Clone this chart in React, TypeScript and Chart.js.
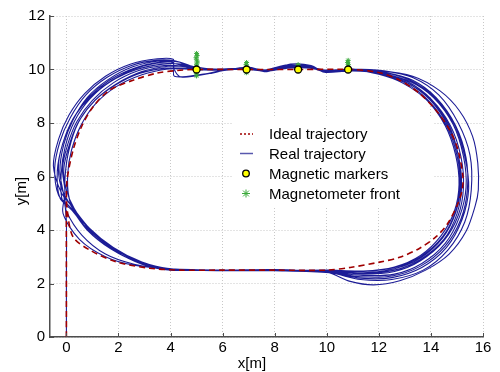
import React, { useEffect, useRef } from "react";
import { Chart, registerables } from "chart.js";

Chart.register(...registerables);

type Pt = [number, number];

const X_MIN = -0.63;
const X_MAX = 16;
const Y_MIN = 0;
const Y_MAX = 12;
const X_TICKS = [0, 2, 4, 6, 8, 10, 12, 14, 16];
const Y_TICKS = [0, 2, 4, 6, 8, 10, 12];
const X_TITLE = "x[m]";
const Y_TITLE = "y[m]";
const LEGEND_LABELS = ["Ideal trajectory", "Real trajectory", "Magnetic markers", "Magnetometer front"];

const IDEAL: Pt[] = [
  [0, 0], [0, 2.5], [0, 5.0], [0.03, 5.9], [0.26, 7.0], [0.58, 7.86], [1.02, 8.6], [1.66, 9.23],
  [2.56, 9.6], [3.46, 9.86], [4.22, 9.96], [5.0, 10.0], [7.0, 10.0], [9.0, 10.0], [11.0, 10.0],
  [12.03, 9.88], [12.8, 9.6], [13.57, 9.1], [14.2, 8.47], [14.72, 7.74], [15.04, 6.99],
  [15.23, 5.99], [15.2, 5.5], [15.04, 5.0], [14.65, 4.25], [14.2, 3.75], [13.57, 3.32],
  [12.8, 2.98], [12.03, 2.8], [10.9, 2.6], [10.0, 2.5], [8.0, 2.5], [6.0, 2.5], [4.35, 2.5],
  [3.2, 2.57], [1.92, 2.81], [0.9, 3.25], [0.25, 3.75], [0.03, 4.75], [0, 5.3],
];

const START: Pt[] = [[0, 0], [0, 2.2], [0, 4.3]];

const LAP1: Pt[] = [
  [-0.05, 5.0], [-0.05, 6.0], [0.1, 7.0], [0.45, 8.0], [1.05, 8.8], [1.85, 9.4], [2.8, 9.85],
  [3.8, 10.05], [4.6, 10.05], [5.0, 10.0], [6.0, 10.0], [7.0, 10.05], [7.7, 9.97], [8.5, 10.1],
  [9.3, 10.1], [9.9, 9.97], [11.0, 10.0], [12.0, 9.85], [13.0, 9.5], [13.9, 8.85], [14.6, 7.9],
  [15.0, 6.8], [15.12, 5.7], [14.95, 4.7], [14.45, 3.75], [13.6, 3.0], [12.6, 2.6], [11.4, 2.45],
  [10.0, 2.48], [8.0, 2.5], [6.0, 2.48], [4.2, 2.53], [3.0, 2.75], [1.9, 3.25], [1.0, 3.95], [0.35, 4.6],
];

const LAP2: Pt[] = [
  [-0.15, 5.1], [-0.2, 6.1], [-0.05, 7.1], [0.3, 8.05], [0.9, 8.9], [1.7, 9.55], [2.7, 10.0],
  [3.7, 10.2], [4.4, 10.2], [5.0, 10.02], [6.0, 9.98], [7.0, 10.02], [7.6, 9.95], [8.5, 10.12],
  [9.3, 10.12], [9.9, 9.95], [11.0, 10.02], [12.1, 9.88], [13.1, 9.55], [14.0, 8.9], [14.75, 7.9],
  [15.15, 6.75], [15.25, 5.6], [15.05, 4.55], [14.5, 3.6], [13.6, 2.85], [12.6, 2.45], [11.4, 2.35],
  [10.2, 2.45], [8.0, 2.5], [6.0, 2.5], [4.0, 2.55], [2.8, 2.82], [1.7, 3.35], [0.8, 4.05], [0.2, 4.75],
];

const LAP3: Pt[] = [
  [-0.25, 5.2], [-0.35, 6.2], [-0.15, 7.2], [0.25, 8.15], [0.85, 8.95], [1.65, 9.6], [2.6, 10.05],
  [3.6, 10.28], [4.1, 10.25], [4.15, 9.75], [5.2, 9.82], [5.95, 9.95], [7.0, 10.05], [7.7, 9.95],
  [8.6, 10.15], [9.4, 10.1], [10.0, 9.92], [11.0, 10.0], [12.2, 9.9], [13.3, 9.6], [14.2, 8.95],
  [14.95, 7.9], [15.35, 6.7], [15.4, 5.5], [15.15, 4.4], [14.55, 3.4], [13.6, 2.65], [12.5, 2.28],
  [11.3, 2.25], [10.2, 2.4], [8.0, 2.5], [6.0, 2.5], [4.0, 2.52], [2.6, 2.72], [1.5, 3.1], [0.6, 3.8], [0.0, 4.7],
];

const LAP4: Pt[] = [
  [-0.3, 5.3], [-0.45, 6.3], [-0.25, 7.3], [0.15, 8.2], [0.75, 9.05], [1.55, 9.7], [2.5, 10.15],
  [3.5, 10.35], [4.2, 10.32], [4.9, 10.1], [6.0, 10.0], [7.0, 10.08], [7.6, 9.98], [8.5, 10.18],
  [9.3, 10.15], [9.9, 9.95], [11.0, 10.02], [12.2, 9.95], [13.3, 9.7], [14.3, 9.05], [15.05, 8.0],
  [15.5, 6.8], [15.55, 5.5], [15.3, 4.3], [14.65, 3.25], [13.7, 2.5], [12.5, 2.15], [11.3, 2.15],
  [10.1, 2.4], [8.0, 2.48], [6.0, 2.5], [4.0, 2.55], [2.9, 2.8], [1.8, 3.35], [0.9, 4.05], [0.2, 4.9],
];

const LAP5: Pt[] = [
  [-0.2, 5.4], [-0.5, 6.4], [-0.3, 7.4], [0.1, 8.3], [0.7, 9.1], [1.5, 9.75], [2.45, 10.2],
  [3.5, 10.4], [4.1, 10.38], [4.12, 10.05], [4.4, 9.72], [5.5, 9.85], [6.2, 10.0], [7.0, 10.05],
  [7.7, 9.92], [8.6, 10.2], [9.4, 10.15], [9.9, 9.9], [10.8, 9.95], [12.0, 9.95], [13.3, 9.75],
  [14.35, 9.2], [15.1, 8.45], [15.6, 7.5], [15.8, 6.5], [15.82, 5.5], [15.7, 4.9], [15.35, 3.95],
  [14.7, 3.1], [13.8, 2.5], [12.8, 2.1], [11.8, 1.95], [10.9, 2.08], [10.0, 2.42], [8.0, 2.5],
  [6.0, 2.5], [4.0, 2.55], [2.6, 2.68], [1.5, 3.0], [0.5, 3.65], [-0.13, 4.62],
];

const LAP6: Pt[] = [
  [-0.2, 5.6], [-0.3, 6.5], [-0.05, 7.5], [0.35, 8.3], [0.95, 9.0], [1.75, 9.6], [2.7, 10.05],
  [3.7, 10.25], [4.5, 10.15], [5.0, 10.0], [6.0, 10.02], [7.0, 10.05], [7.6, 9.93], [8.5, 10.05],
  [9.4, 10.05], [10.0, 9.9], [11.0, 9.95], [12.1, 9.85], [13.2, 9.55], [14.1, 8.95], [14.85, 7.95],
  [15.25, 6.75], [15.35, 5.6], [15.1, 4.5], [14.55, 3.5], [13.65, 2.75], [12.6, 2.35], [11.4, 2.3],
  [10.2, 2.42], [8.0, 2.52], [6.0, 2.5], [4.0, 2.53], [2.9, 2.78], [1.8, 3.3], [0.9, 4.0], [0.3, 4.8],
];

const LAP7: Pt[] = [
  [0.0, 5.5], [-0.1, 6.3], [0.15, 7.3], [0.5, 8.1], [1.1, 8.85], [1.9, 9.45], [2.9, 9.92],
  [3.9, 10.12], [4.6, 10.1], [5.0, 10.0], [6.0, 10.0], [7.0, 10.0], [7.6, 9.95], [8.5, 10.08],
  [9.3, 10.08], [9.9, 9.98], [11.0, 10.0], [12.0, 9.88], [13.0, 9.55], [13.95, 8.9], [14.7, 7.9],
  [15.05, 6.8], [15.15, 5.7], [14.95, 4.65], [14.45, 3.7], [13.6, 2.95], [12.6, 2.55], [11.4, 2.4],
  [10.0, 2.47], [8.0, 2.5], [6.0, 2.5], [4.0, 2.52], [2.9, 2.8], [1.8, 3.35], [0.85, 4.1], [0.2, 4.9], [0.0, 5.8],
];

const LAP8: Pt[] = [
  [0.1, 5.2], [0.05, 6.1], [0.2, 7.0], [0.55, 7.9], [1.1, 8.7], [1.9, 9.35], [2.9, 9.8],
  [3.9, 10.02], [4.6, 10.02], [5.0, 9.98], [6.0, 10.02], [7.0, 10.02], [7.7, 9.95], [8.5, 10.06],
  [9.3, 10.06], [9.9, 9.96], [11.0, 9.98], [12.0, 9.82], [12.9, 9.5], [13.85, 8.85], [14.55, 7.9],
  [14.95, 6.8], [15.08, 5.7], [14.9, 4.7], [14.4, 3.8], [13.6, 3.05], [12.6, 2.62], [11.4, 2.47],
  [10.0, 2.5], [8.0, 2.48], [6.0, 2.5], [4.0, 2.5], [2.9, 2.72], [1.9, 3.2], [1.0, 3.9], [0.4, 4.6],
];

const LAP9: Pt[] = [
  [-0.1, 5.3], [-0.25, 6.2], [-0.1, 7.2], [0.25, 8.1], [0.8, 8.95], [1.6, 9.62], [2.55, 10.1],
  [3.55, 10.32], [4.3, 10.28], [4.95, 10.08], [6.0, 10.0], [7.0, 10.04], [7.65, 9.96], [8.5, 10.14],
  [9.35, 10.12], [9.95, 9.94], [11.0, 10.0], [12.15, 9.9], [13.2, 9.6], [14.15, 8.95], [14.9, 7.95],
  [15.3, 6.75], [15.45, 5.55], [15.2, 4.4], [14.6, 3.35], [13.65, 2.6], [12.5, 2.22], [11.3, 2.2],
  [10.15, 2.42], [8.0, 2.5], [6.0, 2.5], [4.0, 2.54], [2.8, 2.78], [1.7, 3.3], [0.8, 4.0], [0.15, 4.85],
];

const LAP10: Pt[] = [
  [-0.05, 5.4], [-0.15, 6.3], [0.05, 7.2], [0.4, 8.05], [1.0, 8.85], [1.8, 9.5], [2.75, 9.95],
  [3.75, 10.15], [4.5, 10.12], [5.0, 10.0], [6.0, 9.98], [7.0, 10.06], [7.65, 9.98], [8.5, 10.1],
  [9.35, 10.1], [9.95, 9.97], [11.0, 10.0], [12.05, 9.87], [13.05, 9.52], [13.95, 8.88], [14.65, 7.9],
  [15.05, 6.8], [15.18, 5.65], [15.0, 4.6], [14.5, 3.65], [13.6, 2.9], [12.6, 2.5], [11.4, 2.38],
  [10.1, 2.46], [8.0, 2.5], [6.0, 2.5], [4.0, 2.53], [2.9, 2.8], [1.85, 3.3], [0.9, 4.05], [0.25, 4.8],
];

const MARKERS: Pt[] = [[5.0, 10.0], [6.92, 10.0], [8.9, 10.0], [10.82, 10.0]];

const MAG_FRONT: Pt[] = [
  [5.0, 10.6], [5.02, 10.52], [4.98, 10.44], [5.0, 10.36], [5.03, 10.28], [5.0, 10.2], [5.0, 10.12],
  [4.99, 9.86], [5.0, 9.76], [6.92, 10.26], [6.9, 10.18], [6.93, 10.1], [6.91, 9.88],
  [8.9, 10.18], [10.82, 10.34], [10.8, 10.26], [10.83, 10.18], [10.82, 10.1],
];

const RED = "#a00000";
const BLUE = "#1c1c96";
const GREEN = "#3aaa3a";
const FONT = "'Liberation Sans', Arial, Helvetica, sans-serif";

const toXY = (a: Pt[]) => a.map(([x, y]) => ({ x, y }));

const overlayPlugin = {
  id: "overlay",
  afterDraw(chart: any) {
    const { ctx, chartArea } = chart;
    const xs = chart.scales.x;
    const ys = chart.scales.y;
    ctx.save();
    // inward tick marks
    ctx.strokeStyle = "#4d4d4d";
    ctx.lineWidth = 1;
    for (const v of X_TICKS) {
      const px = Math.round(xs.getPixelForValue(v)) + 0.5;
      ctx.beginPath();
      ctx.moveTo(px, chartArea.bottom);
      ctx.lineTo(px, chartArea.bottom - 4);
      ctx.stroke();
    }
    for (const v of Y_TICKS) {
      const py = Math.round(ys.getPixelForValue(v)) + 0.5;
      ctx.beginPath();
      ctx.moveTo(chartArea.left, py);
      ctx.lineTo(chartArea.left + 4, py);
      ctx.stroke();
    }
    // axis titles
    ctx.fillStyle = "#000";
    ctx.font = `15px ${FONT}`;
    ctx.textAlign = "center";
    ctx.textBaseline = "middle";
    ctx.fillText(X_TITLE, 252, 364);
    ctx.save();
    ctx.translate(22, 191);
    ctx.rotate(-Math.PI / 2);
    ctx.fillText(Y_TITLE, 0, 0);
    ctx.restore();

    // legend
    ctx.fillStyle = "#fff";
    ctx.fillRect(232, 116, 201, 91);
    const rows = [134, 153.5, 173.5, 193.5];
    ctx.strokeStyle = RED;
    ctx.lineWidth = 1.5;
    ctx.setLineDash([2, 2]);
    ctx.beginPath();
    ctx.moveTo(240, rows[0]);
    ctx.lineTo(253, rows[0]);
    ctx.stroke();
    ctx.setLineDash([]);
    ctx.strokeStyle = "#5858ae";
    ctx.lineWidth = 1.5;
    ctx.beginPath();
    ctx.moveTo(240, rows[1]);
    ctx.lineTo(253, rows[1]);
    ctx.stroke();
    ctx.fillStyle = "#ffff00";
    ctx.strokeStyle = "#000";
    ctx.lineWidth = 1.3;
    ctx.beginPath();
    ctx.arc(246, rows[2], 3.3, 0, Math.PI * 2);
    ctx.fill();
    ctx.stroke();
    ctx.strokeStyle = GREEN;
    ctx.lineWidth = 1;
    const cx = 246, cy = rows[3], r = 4, d = 2.9;
    ctx.beginPath();
    ctx.moveTo(cx - r, cy); ctx.lineTo(cx + r, cy);
    ctx.moveTo(cx, cy - r); ctx.lineTo(cx, cy + r);
    ctx.moveTo(cx - d, cy - d); ctx.lineTo(cx + d, cy + d);
    ctx.moveTo(cx - d, cy + d); ctx.lineTo(cx + d, cy - d);
    ctx.stroke();
    ctx.fillStyle = "#000";
    ctx.textAlign = "left";
    ctx.textBaseline = "alphabetic";
    ctx.font = `15px ${FONT}`;
    LEGEND_LABELS.forEach((t, i) => ctx.fillText(t, 269, rows[i] + 5.4));
    ctx.restore();
  },
};

export default function App() {
  const ref = useRef<HTMLCanvasElement | null>(null);
  useEffect(() => {
    if (!ref.current) return;
    const real = [
      ...START, ...LAP1, ...LAP8, ...LAP2, ...LAP3, ...LAP9, ...LAP4, ...LAP5, ...LAP10, ...LAP6, ...LAP7,
    ];
    const chart = new Chart(ref.current, {
      type: "scatter",
      data: {
        datasets: [
          {
            label: LEGEND_LABELS[2],
            data: toXY(MARKERS),
            pointRadius: 3.5,
            pointBackgroundColor: "#ffff00",
            pointBorderColor: "#000",
            pointBorderWidth: 1.3,
            showLine: false,
            order: 0,
          },
          {
            label: LEGEND_LABELS[3],
            data: toXY(MAG_FRONT),
            pointStyle: "star",
            pointRadius: 2.5,
            pointBorderColor: GREEN,
            pointBackgroundColor: GREEN,
            pointBorderWidth: 1,
            showLine: false,
            order: 1,
          },
          {
            label: LEGEND_LABELS[0],
            data: toXY(IDEAL),
            showLine: true,
            borderColor: RED,
            borderWidth: 1.6,
            borderDash: [6, 4],
            pointRadius: 0,
            tension: 0.3,
            order: 2,
          },
          {
            label: LEGEND_LABELS[1],
            data: toXY(real),
            showLine: true,
            borderColor: BLUE,
            borderWidth: 1.1,
            pointRadius: 0,
            tension: 0.3,
            order: 3,
          },
        ],
      },
      options: {
        responsive: false,
        animation: false,
        events: [],
        layout: { padding: { top: 16, right: 17, left: 0, bottom: 0 } },
        plugins: { legend: { display: false }, tooltip: { enabled: false } },
        scales: {
          x: {
            type: "linear",
            min: X_MIN,
            max: X_MAX,
            afterBuildTicks: (s: any) => {
              s.ticks = X_TICKS.map((v) => ({ value: v }));
            },
            afterFit: (s: any) => {
              s.height = 35;
            },
            grid: { color: "#c8c8c8", lineWidth: 1, drawTicks: false },
            border: { display: true, color: "#4d4d4d", width: 1.5, dash: [1, 2] },
            ticks: { color: "#000", padding: 2, font: { family: FONT, size: 15 }, maxRotation: 0 },
          },
          y: {
            type: "linear",
            min: Y_MIN,
            max: Y_MAX,
            afterBuildTicks: (s: any) => {
              s.ticks = Y_TICKS.map((v) => ({ value: v }));
            },
            afterFit: (s: any) => {
              s.width = 50;
            },
            grid: { color: "#c8c8c8", lineWidth: 1, drawTicks: false },
            border: { display: true, color: "#4d4d4d", width: 1.5, dash: [1, 2] },
            ticks: { color: "#000", padding: 5, font: { family: FONT, size: 15 } },
          },
        },
      },
      plugins: [overlayPlugin],
    });
    return () => chart.destroy();
  }, []);
  return (
    <div style={{ position: "absolute", left: 0, top: 0, width: 500, height: 372, background: "#fff" }}>
      <canvas ref={ref} width={500} height={372} style={{ display: "block" }} />
    </div>
  );
}
